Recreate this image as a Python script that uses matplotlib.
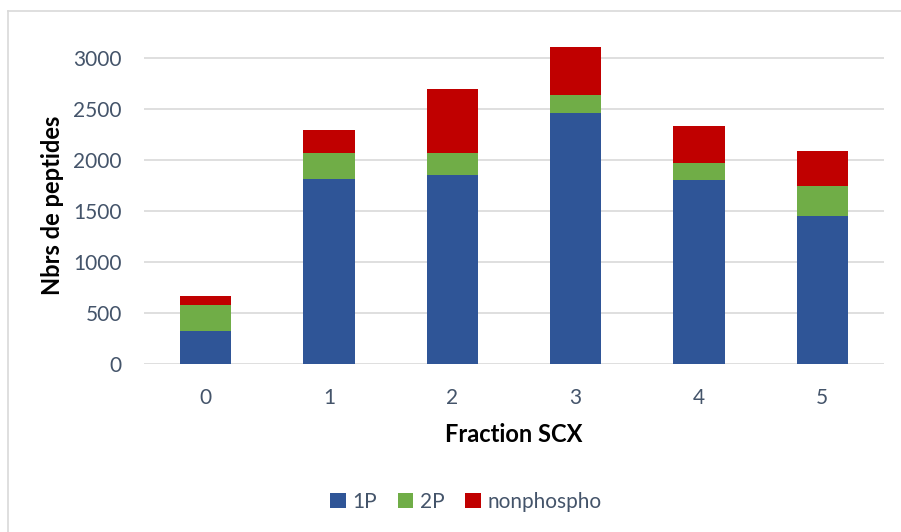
import numpy as np
import matplotlib
matplotlib.use("Agg")
import matplotlib.pyplot as plt
from matplotlib.lines import Line2D

plt.rcParams["font.family"] = ["Lato", "DejaVu Sans"]

# values
fractions = ["0", "1", "2", "3", "4", "5"]
one_p = [326, 1816, 1852, 2455, 1803, 1454]
two_p = [251, 251, 219, 180, 170, 294]
nonphospho = [91, 222, 619, 473, 359, 336]
yticks = [0, 500, 1000, 1500, 2000, 2500, 3000]

BLUE = "#2F5597"
GREEN = "#70AD47"
RED = "#C00000"
TICK_COL = "#44546A"
GRID_COL = "#D9D9D9"

fig = plt.figure(figsize=(9.01, 5.32), dpi=100)
ax = fig.add_axes([0.1598, 0.3152, 0.8213, 0.5970])

x = np.arange(len(fractions))
w = 0.415
one_p = np.array(one_p)
two_p = np.array(two_p)
nonphospho = np.array(nonphospho)

ax.bar(x, one_p, w, color=BLUE, label="1P", zorder=3)
ax.bar(x, two_p, w, bottom=one_p, color=GREEN, label="2P", zorder=3)
ax.bar(x, nonphospho, w, bottom=one_p + two_p, color=RED, label="nonphospho", zorder=3)

ax.set_xlim(-0.5, len(fractions) - 0.5)
ax.set_ylim(0, 3108)
ax.set_yticks(yticks)
ax.set_yticklabels([str(v) for v in yticks])
ax.set_xticks(x)
ax.set_xticklabels(fractions)
ax.tick_params(axis="y", length=0, pad=16, labelsize=15, labelcolor=TICK_COL)
ax.tick_params(axis="x", length=0, pad=17, labelsize=15, labelcolor=TICK_COL)

ax.grid(axis="y", color=GRID_COL, linewidth=1.2, zorder=0)
for s in ax.spines.values():
    s.set_visible(False)

ax.set_xlabel("Fraction SCX", fontsize=17, fontweight="bold", labelpad=11)
ax.set_ylabel("Nbrs de peptides", fontsize=17, fontweight="bold", labelpad=7)

handles, labels = ax.get_legend_handles_labels()
fig.legend(handles, labels, loc="center", bbox_to_anchor=(0.517, 1 - 501.7 / 532),
           ncol=3, frameon=False, fontsize=15, handlelength=0.75, handleheight=0.75,
           handletextpad=0.3, columnspacing=1.0, labelcolor=TICK_COL)

# chart area border (left and top only visible in the crop)
fig.add_artist(Line2D([8 / 901, 8 / 901], [0, 1 - 11 / 532], transform=fig.transFigure,
                      color=GRID_COL, linewidth=1.2))
fig.add_artist(Line2D([8 / 901, 1], [1 - 11 / 532, 1 - 11 / 532], transform=fig.transFigure,
                      color=GRID_COL, linewidth=1.2))

fig.savefig("out.png", dpi=100)
